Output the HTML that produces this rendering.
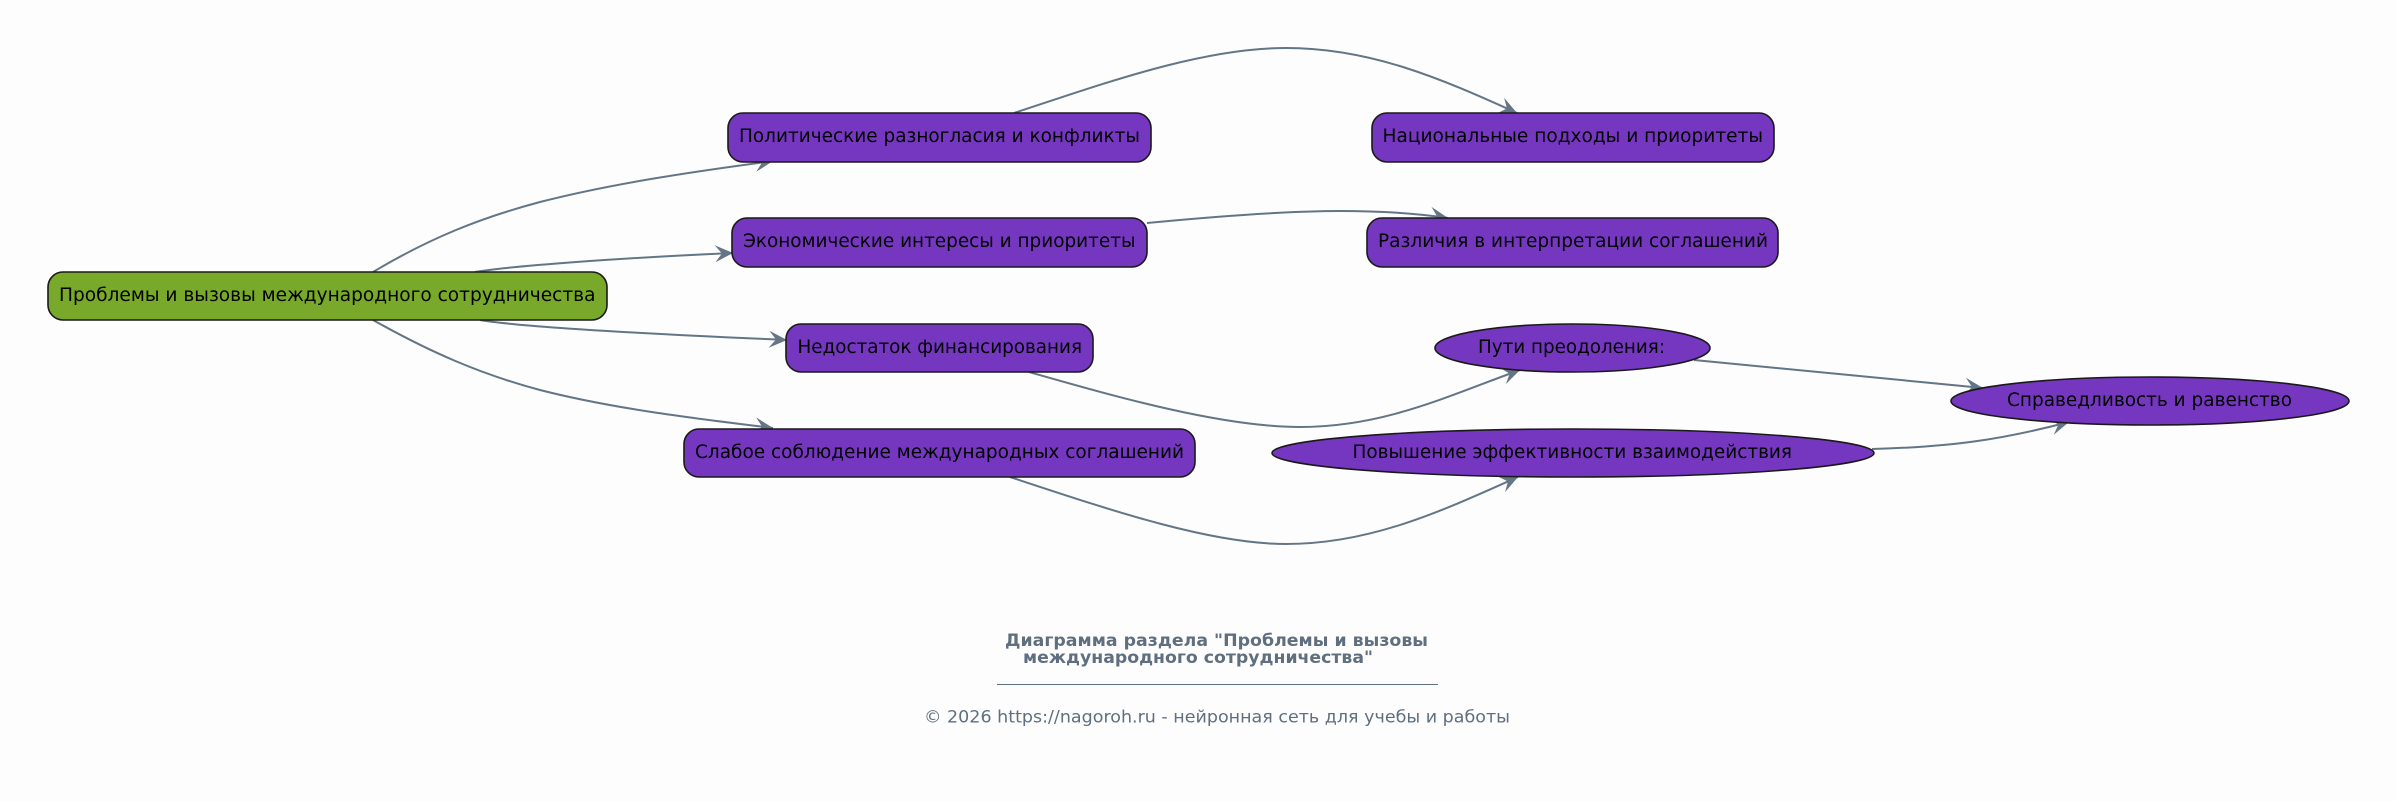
<!DOCTYPE html>
<html><head><meta charset="utf-8"><style>
html,body{margin:0;padding:0;background:#fdfdfd}
svg{display:block}
text{font-family:"DejaVu Sans","Liberation Sans",sans-serif;fill:#000;font-size:18.4px}
.n{fill:#7537c0;stroke:#1a1a1a;stroke-width:1.6}
.e{fill:none;stroke:#647586;stroke-width:2}
.f{fill:#5f6f80;font-size:16.5px}
</style></head><body>
<svg width="2397" height="801" viewBox="0 0 2397 801" xmlns="http://www.w3.org/2000/svg">
<defs><marker id="a" markerUnits="userSpaceOnUse" markerWidth="24" markerHeight="24" refX="20" refY="10" orient="auto" overflow="visible"><path d="M20 10L2 1.5L9 10L2 18.5Z" fill="#647586"/></marker></defs>
<rect width="2397" height="801" fill="#fdfdfd"/>
<path class="e" marker-end="url(#a)" d="M373 272C430 238 480 218 540 202C610 184 690 172 773 161"/>
<path class="e" marker-end="url(#a)" d="M475 272C510 266 620 258 733 253"/>
<path class="e" marker-end="url(#a)" d="M480 320C520 327 650 334 787 340"/>
<path class="e" marker-end="url(#a)" d="M373 320C430 352 480 374 540 390C610 408 690 418 773 428"/>
<path class="e" marker-end="url(#a)" d="M1014 113C1100 85 1200 48 1286 48C1370 48 1440 78 1517 113"/>
<path class="e" marker-end="url(#a)" d="M1147 223C1230 215 1290 211 1340 211C1380 211 1415 213 1448 218"/>
<path class="e" marker-end="url(#a)" d="M1029 372C1110 395 1220 427 1300 427C1385 427 1450 395 1520 370"/>
<path class="e" marker-end="url(#a)" d="M1010 477C1110 510 1210 544 1286 544C1370 544 1440 512 1518 477"/>
<path class="e" marker-end="url(#a)" d="M1694 360L1983 388"/>
<path class="e" marker-end="url(#a)" d="M1872 449C1950 447 2000 440 2069 422"/>
<rect x="48" y="272" width="559" height="48" rx="15" fill="#78a92b" stroke="#1a1a1a" stroke-width="1.6"/>
<rect class="n" x="728" y="113" width="423" height="49" rx="15"/>
<rect class="n" x="732" y="218" width="415" height="49" rx="15"/>
<rect class="n" x="786" y="324" width="307" height="48" rx="15"/>
<rect class="n" x="684" y="429" width="511" height="48" rx="15"/>
<rect class="n" x="1372" y="113" width="402" height="49" rx="15"/>
<rect class="n" x="1367" y="218" width="411" height="49" rx="15"/>
<ellipse class="n" cx="1572.5" cy="348" rx="137.5" ry="24"/>
<ellipse class="n" cx="1573" cy="453" rx="301" ry="24"/>
<ellipse class="n" cx="2150" cy="401" rx="199" ry="24"/>
<text x="59" y="301" textLength="536.5" lengthAdjust="spacingAndGlyphs">Проблемы и вызовы международного сотрудничества</text>
<text x="739" y="142" textLength="401" lengthAdjust="spacingAndGlyphs">Политические разногласия и конфликты</text>
<text x="743" y="247" textLength="392.5" lengthAdjust="spacingAndGlyphs">Экономические интересы и приоритеты</text>
<text x="797.5" y="353" textLength="284.5" lengthAdjust="spacingAndGlyphs">Недостаток финансирования</text>
<text x="695" y="458" textLength="489" lengthAdjust="spacingAndGlyphs">Слабое соблюдение международных соглашений</text>
<text x="1382.5" y="142" textLength="380.5" lengthAdjust="spacingAndGlyphs">Национальные подходы и приоритеты</text>
<text x="1378" y="247" textLength="390" lengthAdjust="spacingAndGlyphs">Различия в интерпретации соглашений</text>
<text x="1478" y="353" textLength="187" lengthAdjust="spacingAndGlyphs">Пути преодоления:</text>
<text x="1352.5" y="458" textLength="439.5" lengthAdjust="spacingAndGlyphs">Повышение эффективности взаимодействия</text>
<text x="2007" y="406" textLength="285" lengthAdjust="spacingAndGlyphs">Справедливость и равенство</text>
<text class="f" style="font-weight:bold" x="1005" y="646" textLength="423" lengthAdjust="spacingAndGlyphs">Диаграмма раздела "Проблемы и вызовы</text>
<text class="f" style="font-weight:bold" x="1023" y="663" textLength="350" lengthAdjust="spacingAndGlyphs">международного сотрудничества"</text>
<line x1="997" y1="684.5" x2="1438" y2="684.5" stroke="#5f6f80" stroke-width="1"/>
<text class="f" x="924" y="722.5" textLength="586" lengthAdjust="spacingAndGlyphs">© 2026 https://nagoroh.ru - нейронная сеть для учебы и работы</text>
</svg>
</body></html>
